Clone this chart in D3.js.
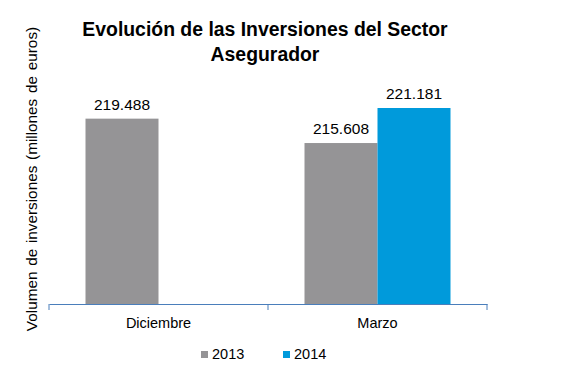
<!DOCTYPE html>
<html>
<head>
<meta charset="utf-8">
<script src="https://cdn.jsdelivr.net/npm/d3@7"></script>
<style>
  body { margin: 0; background: #fff; }
  svg { display: block; font-family: Arial, "Liberation Sans", sans-serif; }
</style>
</head>
<body>
<svg id="chart" width="568" height="379"></svg>
<script>
// data
const categories = ['Diciembre', 'Marzo'];
const series = ['2013', '2014'];
const values2013 = [219488, 215608];
const values2014 = [null, 221181];
const colors = ['#959496', '#009ADB'];
const titleLines = ['Evolución de las Inversiones del Sector', 'Asegurador'];
const yTitle = 'Volumen de inversiones (millones de euros)';

const svg = d3.select('#chart');
const es = d3.formatLocale({ decimal: ',', thousands: '.', grouping: [3], currency: ['', '€'] });
const fmt = es.format(',d');

// plot area
const mLeft = 49, mRight = 487, mTop = 84, mBottom = 304;

const x = d3.scaleBand().domain(categories).range([mLeft, mRight]).paddingInner(0).paddingOuter(0);
const xInner = d3.scaleBand().domain(series).range([0, x.bandwidth()]).paddingInner(0).paddingOuter(0.5);
const y = d3.scaleLinear().domain([190000, 225000]).range([mBottom, mTop]);

const rows = categories.map((c, i) => ({ cat: c, vals: [values2013[i], values2014[i]] }));

const groups = svg.selectAll('g.cat')
  .data(rows)
  .join('g')
  .attr('class', 'cat')
  .attr('transform', d => `translate(${x(d.cat)},0)`);

const bars = groups.selectAll('g.bar')
  .data(d => d.vals.map((v, j) => ({ key: series[j], v: v, j: j })).filter(d => d.v != null))
  .join('g')
  .attr('class', 'bar');

bars.append('rect')
  .attr('x', d => xInner(d.key))
  .attr('width', xInner.bandwidth())
  .attr('y', d => y(d.v))
  .attr('height', d => mBottom - y(d.v))
  .attr('fill', d => colors[d.j]);

bars.append('text')
  .attr('x', d => xInner(d.key) + xInner.bandwidth() / 2)
  .attr('y', d => y(d.v) - 9)
  .attr('text-anchor', 'middle')
  .attr('font-size', 15.5)
  .attr('fill', '#000')
  .text(d => fmt(d.v));

// x axis
const xAxis = d3.axisBottom(x).tickSize(6).tickSizeOuter(0);
const gx = svg.append('g')
  .attr('transform', `translate(0,${mBottom})`)
  .call(xAxis);
gx.select('.domain').attr('stroke', '#4A7EBB');
gx.selectAll('.tick line').remove();
// ticks at category boundaries
gx.selectAll('line.bound')
  .data([mLeft, mLeft + x.bandwidth(), mRight])
  .join('line')
  .attr('class', 'bound')
  .attr('x1', d => d).attr('x2', d => d)
  .attr('y1', 0).attr('y2', 6)
  .attr('stroke', '#4A7EBB');
gx.selectAll('.tick text')
  .attr('font-size', 14.5)
  .attr('font-family', 'Arial, "Liberation Sans", sans-serif')
  .attr('fill', '#000')
  .attr('dy', 0)
  .attr('y', 24);

// title
svg.append('text')
  .attr('text-anchor', 'middle')
  .attr('font-weight', 'bold')
  .attr('font-size', 19.4)
  .selectAll('tspan')
  .data(titleLines)
  .join('tspan')
  .attr('x', 265)
  .attr('y', (d, i) => 36 + i * 25)
  .text(d => d);

// y title
svg.append('text')
  .attr('transform', 'translate(37,179) rotate(-90)')
  .attr('text-anchor', 'middle')
  .attr('font-size', 15.3)
  .attr('word-spacing', 1.5)
  .text(yTitle);

// legend
const legend = svg.append('g').attr('transform', 'translate(201,351)');
const li = legend.selectAll('g')
  .data(series)
  .join('g')
  .attr('transform', (d, i) => `translate(${i * 82},0)`);
li.append('rect').attr('width', 7).attr('height', 7).attr('fill', (d, i) => colors[i]);
li.append('text').attr('x', 11).attr('y', 8).attr('font-size', 14.5).text(d => d);
</script>
</body>
</html>
